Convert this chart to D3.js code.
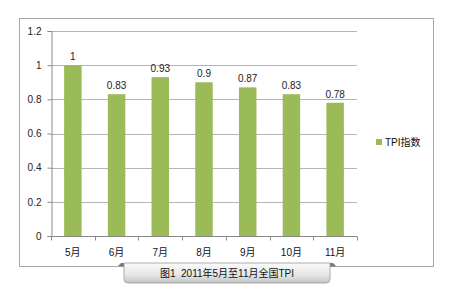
<!DOCTYPE html>
<html>
<head>
<meta charset="utf-8">
<script src="https://cdn.jsdelivr.net/npm/d3@7"></script>
<style>
  html, body { margin: 0; padding: 0; background: #fff; }
  text { font-family: "Liberation Sans", Arial, "Noto Sans CJK SC", sans-serif; }
</style>
</head>
<body>
<div id="chart"></div>
<script>
// données
const months = ['5月', '6月', '7月', '8月', '9月', '10月', '11月']
const tpi = [1, 0.83, 0.93, 0.9, 0.87, 0.83, 0.78]
const yTicks = [0, 0.2, 0.4, 0.6, 0.8, 1, 1.2]
const seriesName = 'TPI指数'
const caption = '图1  2011年5月至11月全国TPI'

const W = 450, H = 299
const plot = { left: 51, right: 357, top: 31, bottom: 236 }

const svg = d3.select('#chart')
  .append('svg')
  .attr('width', W)
  .attr('height', H)

// cadre
svg.append('rect')
  .attr('x', 19.5).attr('y', 18.5)
  .attr('width', 414).attr('height', 248)
  .attr('fill', '#fff')
  .attr('stroke', '#a8a8a8')
  .attr('stroke-width', 1)

const x = d3.scaleBand()
  .domain(months)
  .range([plot.left, plot.right])
  .paddingInner(0.6)
  .paddingOuter(0.3)

const y = d3.scaleLinear()
  .domain([0, 1.2])
  .range([plot.bottom, plot.top])

// grille
svg.append('g')
  .selectAll('line')
  .data(yTicks.filter(d => d > 0))
  .join('line')
  .attr('x1', plot.left).attr('x2', plot.right)
  .attr('y1', d => Math.round(y(d)) + 0.5)
  .attr('y2', d => Math.round(y(d)) + 0.5)
  .attr('stroke', '#b5b5b5')
  .attr('stroke-width', 1)

// barres
svg.append('g')
  .selectAll('rect')
  .data(tpi)
  .join('rect')
  .attr('x', (d, i) => x(months[i]))
  .attr('y', d => y(d))
  .attr('width', x.bandwidth())
  .attr('height', d => y(0) - y(d))
  .attr('fill', '#9bbb59')

// étiquettes de valeur
svg.append('g')
  .selectAll('text')
  .data(tpi)
  .join('text')
  .attr('x', (d, i) => x(months[i]) + x.bandwidth() / 2)
  .attr('y', d => y(d) - 5)
  .attr('text-anchor', 'middle')
  .attr('font-size', 10)
  .attr('fill', '#222')
  .text(d => d)

// axe Y
const yAxis = svg.append('g')
  .attr('transform', `translate(${plot.left + 0.5},0)`)
  .call(d3.axisLeft(y).tickValues(yTicks).tickSize(4).tickFormat(d => d))
yAxis.select('.domain').attr('stroke', '#888')
yAxis.selectAll('.tick line').attr('stroke', '#888')
yAxis.selectAll('.tick text')
  .attr('font-size', 10)
  .attr('fill', '#222')
  .attr('x', -10)

// axe X
const step = (plot.right - plot.left) / months.length
const xAxis = svg.append('g')
  .attr('transform', `translate(0,${plot.bottom + 0.5})`)
xAxis.append('line')
  .attr('x1', plot.left).attr('x2', plot.right)
  .attr('stroke', '#888')
xAxis.selectAll('line.tk')
  .data(d3.range(months.length + 1))
  .join('line')
  .attr('class', 'tk')
  .attr('x1', i => Math.round(plot.left + i * step) + 0.5)
  .attr('x2', i => Math.round(plot.left + i * step) + 0.5)
  .attr('y1', 0).attr('y2', 4)
  .attr('stroke', '#888')
xAxis.selectAll('text')
  .data(months)
  .join('text')
  .attr('x', d => x(d) + x.bandwidth() / 2)
  .attr('y', 19)
  .attr('text-anchor', 'middle')
  .attr('font-size', 10)
  .attr('font-family', '"Noto Sans CJK SC", sans-serif')
  .attr('fill', '#111')
  .text(d => d)

// légende
const legend = svg.append('g').attr('transform', 'translate(376,139)')
legend.append('rect')
  .attr('width', 6).attr('height', 6)
  .attr('fill', '#9bbb59')
legend.append('text')
  .attr('x', 9).attr('y', 3)
  .attr('dy', '0.35em')
  .attr('font-size', 10)
  .attr('font-family', '"Noto Sans CJK SC", sans-serif')
  .attr('fill', '#111')
  .text(seriesName)

// onglet de légende en bas
const defs = svg.append('defs')
const grad = defs.append('linearGradient')
  .attr('id', 'tabGrad')
  .attr('x1', 0).attr('y1', 0).attr('x2', 0).attr('y2', 1)
grad.append('stop').attr('offset', '0%').attr('stop-color', '#fbfbfb')
grad.append('stop').attr('offset', '60%').attr('stop-color', '#e6e6e6')
grad.append('stop').attr('offset', '100%').attr('stop-color', '#c4c4c4')

const tab = svg.append('g')
tab.append('path')
  .attr('d', 'M118,266 L121,263 L126,263 L126,267 Z')
  .attr('fill', '#7a7a7a')
tab.append('path')
  .attr('d', 'M336,266 L333,263 L328,263 L328,267 Z')
  .attr('fill', '#7a7a7a')
tab.append('path')
  .attr('d', 'M124,263 L330,263 L330,279 Q330,283 326,283 L128,283 Q124,283 124,279 Z')
  .attr('fill', 'url(#tabGrad)')
  .attr('stroke', '#9a9a9a')
  .attr('stroke-width', 0.8)
tab.append('text')
  .attr('x', 227).attr('y', 273)
  .attr('dy', '0.35em')
  .attr('text-anchor', 'middle')
  .attr('font-size', 10)
  .attr('font-family', '"Noto Sans CJK SC", sans-serif')
  .attr('fill', '#111')
  .style('white-space', 'pre')
  .text(caption)
</script>
</body>
</html>
